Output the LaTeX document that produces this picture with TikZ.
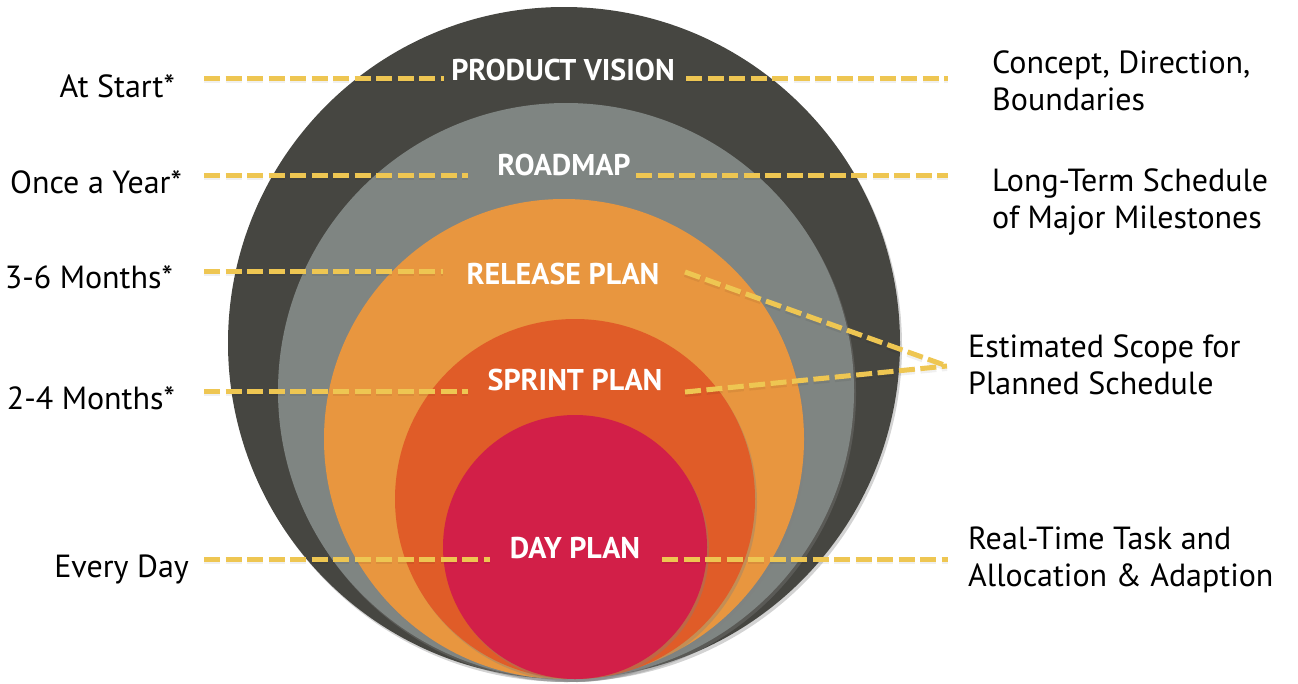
\documentclass[tikz,border=0pt]{standalone}
\usepackage{fontspec}
\setmainfont{PT Sans}
\usetikzlibrary{shadows}

\definecolor{visionGray}{HTML}{464641}
\definecolor{roadmapGray}{HTML}{7F8582}
\definecolor{releaseOrange}{HTML}{E8963F}
\definecolor{sprintOrange}{HTML}{E05C28}
\definecolor{dayRed}{HTML}{D21F48}
\definecolor{dashGold}{HTML}{EEC652}

\begin{document}
\begin{tikzpicture}
[x=1pt,y=-1pt,
  ringDecorate/.style={drop shadow={opacity=0.35,shadow xshift=2pt,shadow yshift=-3pt}},%
  titleDecorate/.style={text=white,inner sep=0pt,font=\fontsize{30}{32}\selectfont\bfseries},%
  noteDecorate/.style={inner sep=0pt,align=left,font=\fontsize{32}{37}\selectfont},%
  lineDecorate/.style={-,draw=dashGold,line width=5pt,dash pattern=on 16pt off 5.5pt,
    preaction={draw=black,opacity=0.06,line width=6pt,dash pattern=on 16pt off 5.5pt,
      transform canvas={yshift=-2pt}}}]
\useasboundingbox (0,0) rectangle (1298,683);
%% rings
\fill[visionGray,ringDecorate] (564,343) circle[radius=336];
\fill[roadmapGray,ringDecorate] (566,391) circle[radius=288];
\fill[releaseOrange,ringDecorate] (564,439) circle[radius=240];
\fill[sprintOrange,ringDecorate] (575,499) circle[radius=180];
\fill[dayRed,ringDecorate] (575,547) circle[radius=132];
%% ring titles
\node[titleDecorate] (vision) at (563,70) {PRODUCT VISION};
\node[titleDecorate] (roadmap) at (564,165) {ROADMAP};
\node[titleDecorate] (release) at (563,274) {RELEASE PLAN};
\node[titleDecorate] (sprint) at (575,380) {SPRINT PLAN};
\node[titleDecorate] (day) at (575,548) {DAY PLAN};
%% how often
\node[noteDecorate,anchor=base east] (atstart) at (175,97) {At Start*};
\node[noteDecorate,anchor=base east] (year) at (182,193) {Once a Year*};
\node[noteDecorate,anchor=base east] (months36) at (173,288) {3-6 Months*};
\node[noteDecorate,anchor=base east] (months24) at (175,409) {2-4 Months*};
\node[noteDecorate,anchor=base east] (everyday) at (189,577) {Every Day};
%% what it holds
\node[noteDecorate,anchor=north west] (concept) at (992,51) {Concept, Direction,\\Boundaries};
\node[noteDecorate,anchor=north west] (longterm) at (992,169) {Long-Term Schedule\\of Major Milestones};
\node[noteDecorate,anchor=north west] (scope) at (968,335) {Estimated Scope for\\Planned Schedule};
\node[noteDecorate,anchor=north west] (realtime) at (968,527) {Real-Time Task and\\Allocation \& Adaption};
%% dash ends
\foreach \pointname/\x/\y in {
  v1/204/78,  v2/444/78,  v3/686/78,  v4/948/78,
  r1/204/175, r2/468/175, r3/636/175, r4/948/175,
  e1/204/271, e2/443/271, e3/685/272, m/947/366,
  s1/204/391, s2/468/391, s3/685/392,
  d1/204/559, d2/490/559, d3/662/559, d4/948/559}
{
  \coordinate (\pointname) at (\x,\y);
}
%% dashed leaders
\path
\foreach \startnode/\endnode in {
  v1/v2, v3/v4, r1/r2, r3/r4,
  e1/e2, e3/m, s1/s2, s3/m,
  d1/d2, d3/d4}
{
  (\startnode) edge[lineDecorate] (\endnode)
};
\end{tikzpicture}
\end{document}
